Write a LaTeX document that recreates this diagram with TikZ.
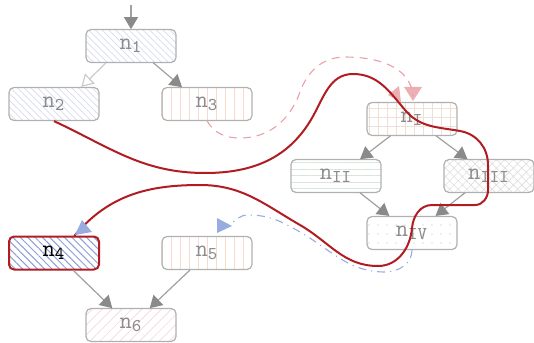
\documentclass[tikz,border=0pt]{standalone}
\usetikzlibrary{arrows.meta,patterns.meta}

\definecolor{edgegray}{HTML}{A0A0A0}
\definecolor{tipgray}{HTML}{8A8A8A}
\definecolor{bordergray}{HTML}{B0B0B0}
\definecolor{textgray}{HTML}{8C8C8C}
\definecolor{routered}{HTML}{B01C22}
\definecolor{flowpink}{HTML}{E7A1A7}
\definecolor{flowblue}{HTML}{98ACDF}
\definecolor{patblue}{HTML}{D6DCEA}
\definecolor{patorange}{HTML}{FADACB}
\definecolor{patbrown}{HTML}{EEE0D4}
\definecolor{patgreen}{HTML}{D5E6DC}
\definecolor{patgray}{HTML}{DEDEDE}
\definecolor{patdeep}{HTML}{8D9FD6}
\definecolor{patpink}{HTML}{F3D6DC}

\begin{document}
\begin{tikzpicture}[x=0.5pt,y=0.5pt,
  box/.style={draw=bordergray, line width=0.6pt, rounded corners=2.5pt,
    minimum width=45pt, minimum height=16.5pt, inner sep=0pt,
    text=textgray, font=\fontsize{12.5}{14}\selectfont},
  flow/.style={draw=edgegray, line width=0.6pt,
    -{Triangle[width=7pt,length=6pt,color=tipgray]}},
  openflow/.style={draw=edgegray!55, line width=0.6pt,
    -{Triangle[open,width=7pt,length=6pt,color=edgegray!55,fill=white]}},
  route/.style={draw=routered, line width=1pt},
  pinkflow/.style={draw=flowpink, line width=0.55pt, dash pattern=on 4pt off 3pt},
  blueflow/.style={draw=flowblue, line width=0.55pt,
    dash pattern=on 4pt off 2.5pt on 0.6pt off 2.5pt},
  pinktip/.style={fill=flowpink, fill opacity=0.85, draw=none},
  bluetip/.style={fill=flowblue, draw=none}
]
\useasboundingbox (0,0) rectangle (534,-342);

% boxes
\node[box, pattern={Lines[angle=-45,distance=2.4pt,line width=0.35pt]}, pattern color=patblue]
  (n1) at (131,-46) {$\mathtt{n}_{\mathtt{1}}$};
\node[box, pattern={Lines[angle=-45,distance=2.4pt,line width=0.35pt]}, pattern color=patblue]
  (n2) at (54,-104) {$\mathtt{n}_{\mathtt{2}}$};
\node[box, pattern={Lines[angle=90,distance=4.5pt,line width=0.35pt]}, pattern color=patorange]
  (n3) at (207,-104) {$\mathtt{n}_{\mathtt{3}}$};
\node[box, pattern={Hatch[angle=0,distance=4.5pt,line width=0.35pt]}, pattern color=patbrown]
  (nI) at (412,-119) {$\mathtt{n}_{\mathtt{I}}$};
\node[box, pattern={Lines[angle=0,distance=3.2pt,line width=0.35pt]}, pattern color=patgreen]
  (nII) at (336,-176) {$\mathtt{n}_{\mathtt{II}}$};
\node[box, pattern={Hatch[angle=45,distance=3pt,line width=0.3pt]}, pattern color=patgray]
  (nIII) at (489,-176) {$\mathtt{n}_{\mathtt{III}}$};
\node[box, pattern={Dots[distance=4.5pt,radius=0.4pt]}, pattern color=patgray]
  (nIV) at (412,-233) {$\mathtt{n}_{\mathtt{IV}}$};
\node[box, draw=routered, line width=1pt, text=black,
  pattern={Lines[angle=-45,distance=2.6pt,line width=0.5pt]}, pattern color=patdeep]
  (n4) at (54,-253) {$\mathtt{n}_{\mathtt{4}}$};
\node[box, pattern={Lines[angle=90,distance=4.5pt,line width=0.35pt]}, pattern color=patorange]
  (n5) at (207,-253) {$\mathtt{n}_{\mathtt{5}}$};
\node[box, pattern={Lines[angle=45,distance=3.5pt,line width=0.35pt]}, pattern color=patpink]
  (n6) at (131,-325) {$\mathtt{n}_{\mathtt{6}}$};

% entry into the first box
\coordinate (entry) at (131,-5);
\draw[flow] (entry) -- (n1.north);

% tree edges
\draw[openflow] (n1.-146) -- (n2.32);
\draw[flow] (n1.-37) -- (n3.146);
\draw[flow] (nI.-142) -- (nII.35);
\draw[flow] (nI.-35) -- (nIII.142);
\draw[flow] (nII.-35) -- (nIV.143);
\draw[flow] (nIII.-145) -- (nIV.36);
\draw[flow] (n4.-42) -- (n6.138);
\draw[flow] (n5.-135) -- (n6.42);

% dashed pink link from n3 to nI
\draw[pinkflow] (n3.south) to[out=-60,in=180] (240,-138)
  to[out=0,in=-110] (300,-92) to[out=70,in=180] (345,-57)
  to[out=0,in=95] (413,-96);
\fill[pinktip] (404,-87) -- (422,-87) -- (413,-101) -- cycle;
\fill[pinktip] (399,-86) -- (401,-102) -- (388,-95) -- cycle;

% dash-dotted blue link from nIV to n5
\draw[blueflow] (nIV.south) to[out=-90,in=0] (385,-272)
  to[out=180,in=-30] (300,-232) to[out=150,in=0] (248,-215)
  to[out=180,in=40] (231,-224);
\fill[bluetip] (217,-218) -- (217,-233) -- (232,-226) -- cycle;

% red route through the graph
\draw[route] (n2.south) to[out=-25,in=180] (205,-173)
  to[out=0,in=-120] (312,-118) to[out=60,in=180] (353,-74)
  to[out=0,in=130] (405,-110) to[out=-50,in=170] (460,-131)
  to[out=-10,in=90] (488,-165) -- (488,-190)
  to[out=-90,in=0] (475,-205) -- (432,-205)
  to[out=180,in=85] (412,-228) to[out=-95,in=0] (378,-266)
  to[out=180,in=-30] (300,-225) to[out=150,in=0] (200,-185)
  to[out=180,in=50] (n4.40);
\fill[bluetip] (82,-220) -- (92,-232) -- (75,-235) -- cycle;
\end{tikzpicture}
\end{document}
